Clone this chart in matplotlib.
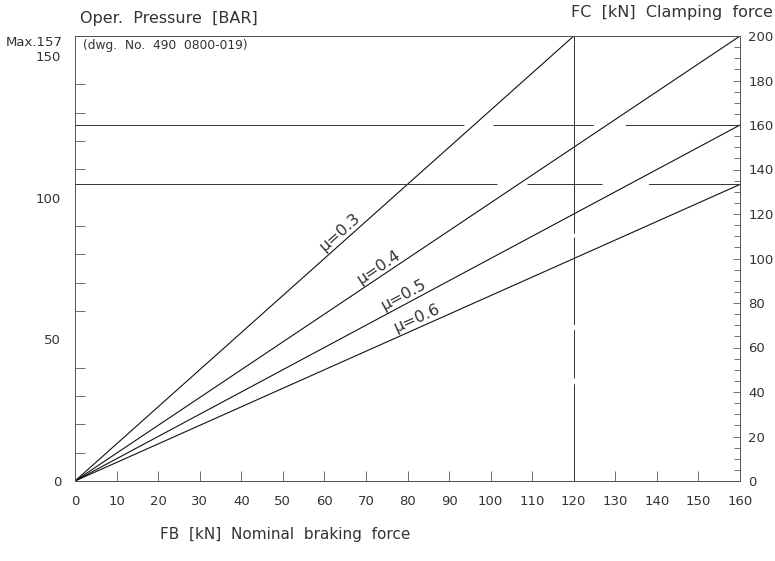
import numpy as np
import matplotlib.pyplot as plt
from matplotlib.transforms import offset_copy

# friction lines: start at origin, end points
mu_labels = ['\u03bc=0.3', '\u03bc=0.4', '\u03bc=0.5', '\u03bc=0.6']
fb_end = [120, 160, 160, 160]
fc_end = [200, 200, 160, 133.3]
label_fb = [65, 74, 80, 83]

# reference lines
fc_ref = [160, 133.3]
fb_ref = 120

p_max = 157
fc_max = 200
fb_max = 160

plt.rcParams['font.family'] = ['DejaVu Sans']
txt = '#333333'

fig = plt.figure(figsize=(7.75, 5.61), dpi=100)
ax = fig.add_axes([75 / 775, 1 - 481 / 561, (740 - 75) / 775, (481 - 36) / 561])
ax2 = ax.twinx()

ax.set_xlim(0, fb_max)
ax.set_ylim(0, p_max)
ax2.set_ylim(0, fc_max)

for a in (ax, ax2):
    for s in a.spines.values():
        s.set_linewidth(0.7)
        s.set_color('#555555')

# lines on clamping force scale
for lab, xe, ye, xl in zip(mu_labels, fb_end, fc_end, label_fb):
    ax2.plot([0, xe], [0, ye], color='#111111', lw=0.8)
    yl = ye * xl / xe
    ang = np.degrees(np.arctan2(ye, xe))
    ax2.text(xl, yl + 0.8, lab, rotation=ang, transform_rotates_text=True,
             rotation_mode='anchor', ha='center', va='bottom',
             fontsize=11.5, color=txt)

# dashed reference lines (dash lengths roughly in pixels)
ax2.plot([0, fb_max], [fc_ref[0]] * 2, color='#333333', lw=0.7,
         dashes=(400, 30, 103, 33, 300, 5))
ax2.plot([0, fb_max], [fc_ref[1]] * 2, color='#333333', lw=0.7,
         dashes=(434, 31, 77, 48, 300, 5))
ax2.plot([fb_ref, fb_ref], [0, fc_max], color='#333333', lw=0.7,
         dashes=(100, 6, 50, 5, 90, 4, 300, 5))

# ticks
ax.set_xticks(np.arange(0, fb_max + 1, 10))
ax.set_yticks([0, 50, 100, 150])
ax.set_yticks(np.arange(0, p_max, 10), minor=True)
ax.tick_params(axis='both', which='both', direction='in', length=7,
               width=0.6, colors='#555555', labelcolor=txt, labelsize=9.5)
ax.tick_params(axis='y', which='major', length=0, pad=10)
ax.tick_params(axis='x', pad=10)
max_tr = offset_copy(ax.transData, fig=fig, x=-12, y=-6, units='dots')
ax.text(0, p_max, 'Max.157', transform=max_tr, ha='right',
        va='center', fontsize=9.5, color=txt, clip_on=False)

ax2.set_yticks(np.arange(0, fc_max + 1, 20))
ax2.set_yticks(np.arange(0, fc_max, 5), minor=True)
ax2.tick_params(axis='y', which='both', direction='in', length=5,
                width=0.6, colors='#555555', labelcolor=txt, labelsize=9.5, pad=6)
ax2.tick_params(axis='y', which='minor', length=4)

fig.text(80 / 775, 1 - 18 / 561, 'Oper.  Pressure  [BAR]', fontsize=11.5,
         color=txt, va='center')
fig.text(773 / 775, 1 - 12 / 561, 'FC  [kN]  Clamping  force', fontsize=11.5,
         color=txt, va='center', ha='right')
fig.text(83 / 775, 1 - 46 / 561, '(dwg.  No.  490  0800-019)', fontsize=8.8,
         color=txt, va='center')
fig.text(285 / 775, 1 - 534 / 561, 'FB  [kN]  Nominal  braking  force',
         fontsize=11, color=txt, va='center', ha='center')

fig.savefig('out.png', dpi=100, facecolor='white')
